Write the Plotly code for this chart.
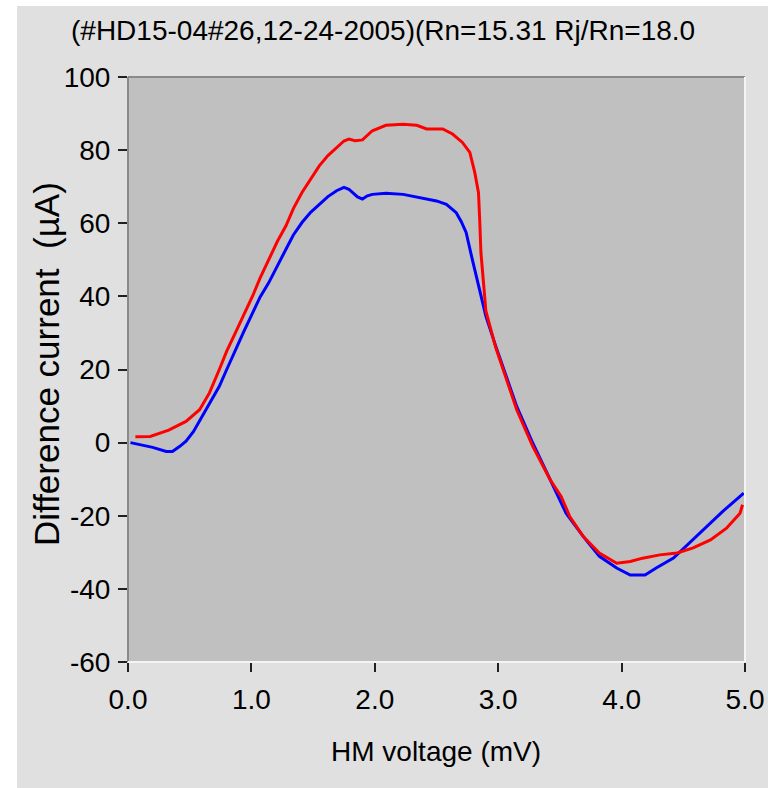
import plotly.graph_objects as go

# Difference current vs HM voltage, two sweeps
blue_v = [0.02, 0.10, 0.20, 0.31, 0.36, 0.42, 0.47, 0.53, 0.60, 0.67, 0.74, 0.80,
          0.87, 0.94, 1.01, 1.07, 1.14, 1.21, 1.28, 1.34, 1.41, 1.48, 1.55, 1.62,
          1.69, 1.75, 1.79, 1.82, 1.86, 1.90, 1.94, 1.98, 2.09, 2.23, 2.36, 2.50,
          2.58, 2.66, 2.70, 2.74, 2.79, 2.85, 2.90, 2.98, 3.07, 3.15, 3.28, 3.42,
          3.55, 3.69, 3.82, 3.96, 4.07, 4.19, 4.28, 4.42, 4.55, 4.69, 4.82, 4.99]
blue_i = [0.0, -0.5, -1.3, -2.4, -2.4, -1.0, 0.4, 3.0, 7.2, 11.0, 15.4, 20.0,
          25.5, 30.5, 35.5, 39.8, 43.7, 48.5, 52.9, 56.8, 60.2, 63.0, 65.2, 67.3,
          68.9, 69.8, 69.3, 68.5, 67.2, 66.6, 67.5, 67.9, 68.2, 67.9, 67.0, 66.1,
          65.2, 62.9, 60.5, 57.5, 50.1, 41.9, 34.6, 26.4, 17.5, 9.9, -0.1, -10.1,
          -19.3, -25.7, -31.1, -34.3, -36.2, -36.2, -34.3, -31.6, -27.5, -22.9, -18.8, -13.8]

red_v = [0.06, 0.18, 0.33, 0.47, 0.58, 0.66, 0.74, 0.80, 0.87, 0.94, 1.01, 1.07,
         1.14, 1.21, 1.28, 1.34, 1.41, 1.48, 1.55, 1.62, 1.69, 1.75, 1.79, 1.84,
         1.90, 1.98, 2.09, 2.23, 2.34, 2.42, 2.55, 2.63, 2.71, 2.77, 2.81, 2.84,
         2.85, 2.86, 2.89, 2.90, 2.98, 3.07, 3.15, 3.28, 3.42, 3.51, 3.58, 3.69,
         3.82, 3.96, 4.07, 4.17, 4.31, 4.45, 4.58, 4.72, 4.85, 4.96, 4.98]
red_i = [1.6, 1.7, 3.4, 5.8, 9.0, 13.6, 20.0, 25.0, 30.0, 35.0, 40.1, 45.0,
         50.1, 55.0, 59.3, 64.0, 68.4, 72.2, 75.7, 78.5, 80.7, 82.5, 83.0, 82.6,
         82.8, 85.3, 86.8, 87.1, 86.8, 85.8, 85.8, 84.4, 82.1, 79.4, 73.9, 68.4,
         61.1, 52.0, 40.1, 36.0, 26.0, 17.0, 9.0, -1.0, -10.1, -14.7, -20.2, -25.7,
         -30.2, -33.0, -32.5, -31.6, -30.7, -30.2, -28.8, -26.6, -23.4, -19.3, -17.0]

x_ticks = [0, 1, 2, 3, 4, 5]
x_labels = ["0.0", "1.0", "2.0", "3.0", "4.0", "5.0"]
y_ticks = [100, 80, 60, 40, 20, 0, -20, -40, -60]
y_labels = ["100", "80", "60", "40", "20", "0", "-20", "-40", "-60"]

title_text = "(#HD15-04#26,12-24-2005)(Rn=15.31 Rj/Rn=18.0"
x_title = "HM voltage (mV)"
y_title = "Difference current  (µA)"

FONT = "Liberation Sans, Arial, sans-serif"
W, H = 768, 788
L, R, T, B = 128, 23, 77, 126
PW, PH = W - L - R, H - T - B


def px(xp):
    return (xp - L) / PW


def py(yp):
    return (H - B - yp) / PH


fig = go.Figure()
fig.add_trace(go.Scatter(x=blue_v, y=blue_i, mode="lines",
                         line=dict(color="#0000ff", width=3), showlegend=False))
fig.add_trace(go.Scatter(x=red_v, y=red_i, mode="lines",
                         line=dict(color="#ff0000", width=3), showlegend=False))

fig.update_layout(
    width=W, height=H, autosize=False,
    margin=dict(l=L, r=R, t=T, b=B, pad=0, autoexpand=False),
    paper_bgcolor="#e0e0e0",
    plot_bgcolor="#c0c0c0",
    font=dict(family=FONT, size=28, color="#000000"),
    xaxis=dict(range=[0, 5], tickvals=x_ticks, ticktext=x_labels, automargin=False,
               showgrid=False, zeroline=False, showline=False,
               ticks="outside", ticklen=9, tickwidth=2, tickcolor="#202020",
               ticklabelstandoff=3, tickfont=dict(size=28)),
    yaxis=dict(range=[-60, 100], tickvals=y_ticks, ticktext=y_labels, automargin=False,
               showgrid=False, zeroline=False, showline=False,
               ticks="outside", ticklen=9, tickwidth=2, tickcolor="#202020",
               ticklabelstandoff=2, tickfont=dict(size=28)),
    shapes=[
        # white strips at left and top of the panel
        dict(type="rect", xref="paper", yref="paper", x0=px(0), x1=px(17),
             y0=py(H), y1=py(0), fillcolor="#ffffff", line=dict(width=0), layer="below"),
        dict(type="rect", xref="paper", yref="paper", x0=px(0), x1=px(W),
             y0=py(6), y1=py(0), fillcolor="#ffffff", line=dict(width=0), layer="below"),
        # sunken frame around the plot area
        dict(type="line", xref="paper", yref="paper", x0=0, x1=0, y0=0, y1=1,
             line=dict(color="#8a8a8a", width=2)),
        dict(type="line", xref="paper", yref="paper", x0=0, x1=1, y0=1, y1=1,
             line=dict(color="#8a8a8a", width=2)),
        dict(type="line", xref="paper", yref="paper", x0=1, x1=1, y0=0, y1=1,
             line=dict(color="#f4f4f4", width=2)),
        dict(type="line", xref="paper", yref="paper", x0=0, x1=1, y0=0, y1=0,
             line=dict(color="#f4f4f4", width=2)),
    ],
    annotations=[
        dict(text=title_text, xref="paper", yref="paper", x=px(69), y=py(30),
             xanchor="left", yanchor="middle", showarrow=False,
             font=dict(size=28, family=FONT)),
        dict(text=x_title, xref="paper", yref="paper", x=px(436), y=py(752),
             xanchor="center", yanchor="middle", showarrow=False,
             font=dict(size=28, family=FONT)),
        dict(text=y_title, xref="paper", yref="paper", x=px(46), y=py(364),
             xanchor="center", yanchor="middle", textangle=-90, showarrow=False,
             font=dict(size=35, family=FONT)),
    ],
)

# keep the page free of scrollbars so the full figure is visible
fig.write_html(
    "out.html",
    config={"responsive": False},
    post_script="document.documentElement.style.overflow='hidden';"
                "document.body.style.margin='0';document.body.style.overflow='hidden';",
)
